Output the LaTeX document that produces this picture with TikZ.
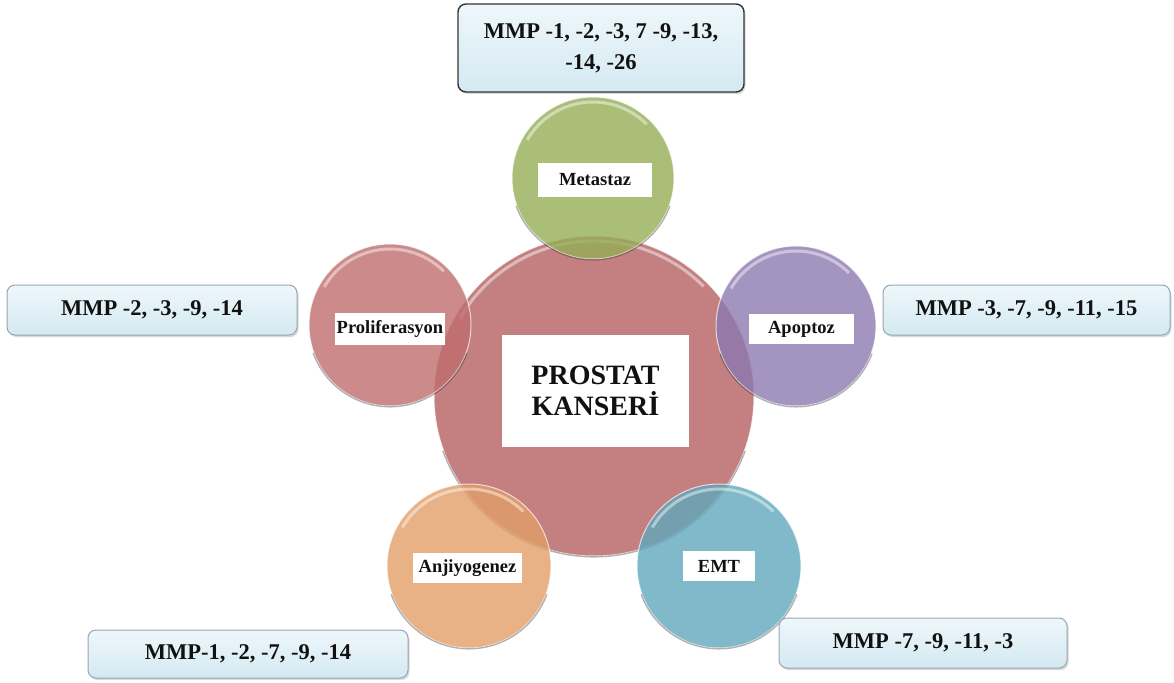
\documentclass[tikz,border=0pt]{standalone}
\usepackage{fontspec}
\setmainfont{Liberation Serif}
\usetikzlibrary{shadows}
\definecolor{cCen}{RGB}{181,96,96}
\definecolor{cMet}{RGB}{149,174,86}
\definecolor{cPro}{RGB}{191,109,109}
\definecolor{cApo}{RGB}{140,121,176}
\definecolor{cAnj}{RGB}{226,159,104}
\definecolor{cEmt}{RGB}{96,168,188}
\definecolor{boxtop}{RGB}{238,247,251}
\definecolor{boxbot}{RGB}{212,233,242}
\definecolor{boxedge}{RGB}{150,166,178}
\definecolor{txt}{RGB}{17,17,17}
\newcommand{\glb}[5]{%
  \node[bubble, fill=#5, minimum size=2*#4] (#1) at (#2,#3) {};
  \pgfmathsetmacro\rin{#4-5}\pgfmathsetmacro\rout{#4+0.8}%
  \draw[white, opacity=0.45, line width=3pt] (#2,#3) ++(45:\rin) arc[start angle=45, end angle=150, radius=\rin];
  \draw[black, opacity=0.3, line width=1.4pt] (#2,#3) ++(200:\rout) arc[start angle=200, end angle=340, radius=\rout];
}
\begin{document}
\begin{tikzpicture}[x=1pt,y=1pt,
  bubble/.style={circle, inner sep=0pt, fill opacity=0.8, draw=white, draw opacity=0.7, line width=1pt},
  lbl/.style={fill=white, inner sep=0pt, text=txt, font=\fontsize{18.5}{22}\selectfont\bfseries},
  mmp/.style={rounded corners=8pt, draw=boxedge, line width=1pt, top color=boxtop, bottom color=boxbot,
    text=txt, font=\fontsize{22.5}{31}\selectfont\bfseries, align=center, inner sep=0pt,
    drop shadow={shadow xshift=1.5pt, shadow yshift=-2pt, opacity=0.3}},
  ]
\useasboundingbox (0,0) rectangle (1174,-682);

% central circle
\glb{pk}{594}{-396}{160}{cCen}
% outer circles
\glb{met}{593}{-178}{81}{cMet}
\glb{pro}{390}{-325}{81}{cPro}
\glb{apo}{796}{-326}{80}{cApo}
\glb{anj}{469}{-566}{82}{cAnj}
\glb{emt}{719}{-566}{82}{cEmt}

% labels
\node[lbl, minimum width=187, minimum height=112, align=center, font=\fontsize{28}{31}\selectfont\bfseries] (pkL) at (595.5,-391) {PROSTAT\\KANSERİ};
\node[lbl, minimum width=114, minimum height=34] (metL) at (595,-180) {Metastaz};
\node[lbl, minimum width=110, minimum height=32] (proL) at (390,-329) {Proliferasyon};
\node[lbl, minimum width=105, minimum height=30] (apoL) at (801.5,-329) {Apoptoz\hspace{12pt}};
\node[lbl, minimum width=109, minimum height=30] (anjL) at (467.5,-568) {Anjiyogenez};
\node[lbl, minimum width=72, minimum height=30] (emtL) at (719,-566) {EMT};

% MMP boxes
\node[mmp, draw=black!80, line width=1.4pt, minimum width=286, minimum height=88] (metB) at (601,-48) {MMP -1, -2, -3, 7 -9, -13,\\-14, -26};
\node[mmp, minimum width=290, minimum height=50] (proB) at (152,-310) {MMP -2, -3, -9, -14};
\node[mmp, minimum width=287, minimum height=50] (apoB) at (1026.5,-310) {MMP -3, -7, -9, -11, -15};
\node[mmp, minimum width=288, minimum height=50] (emtB) at (923,-643) {MMP -7, -9, -11, -3};
\node[mmp, minimum width=320, minimum height=48] (anjB) at (248,-654) {MMP-1, -2, -7, -9, -14};
\end{tikzpicture}
\end{document}
